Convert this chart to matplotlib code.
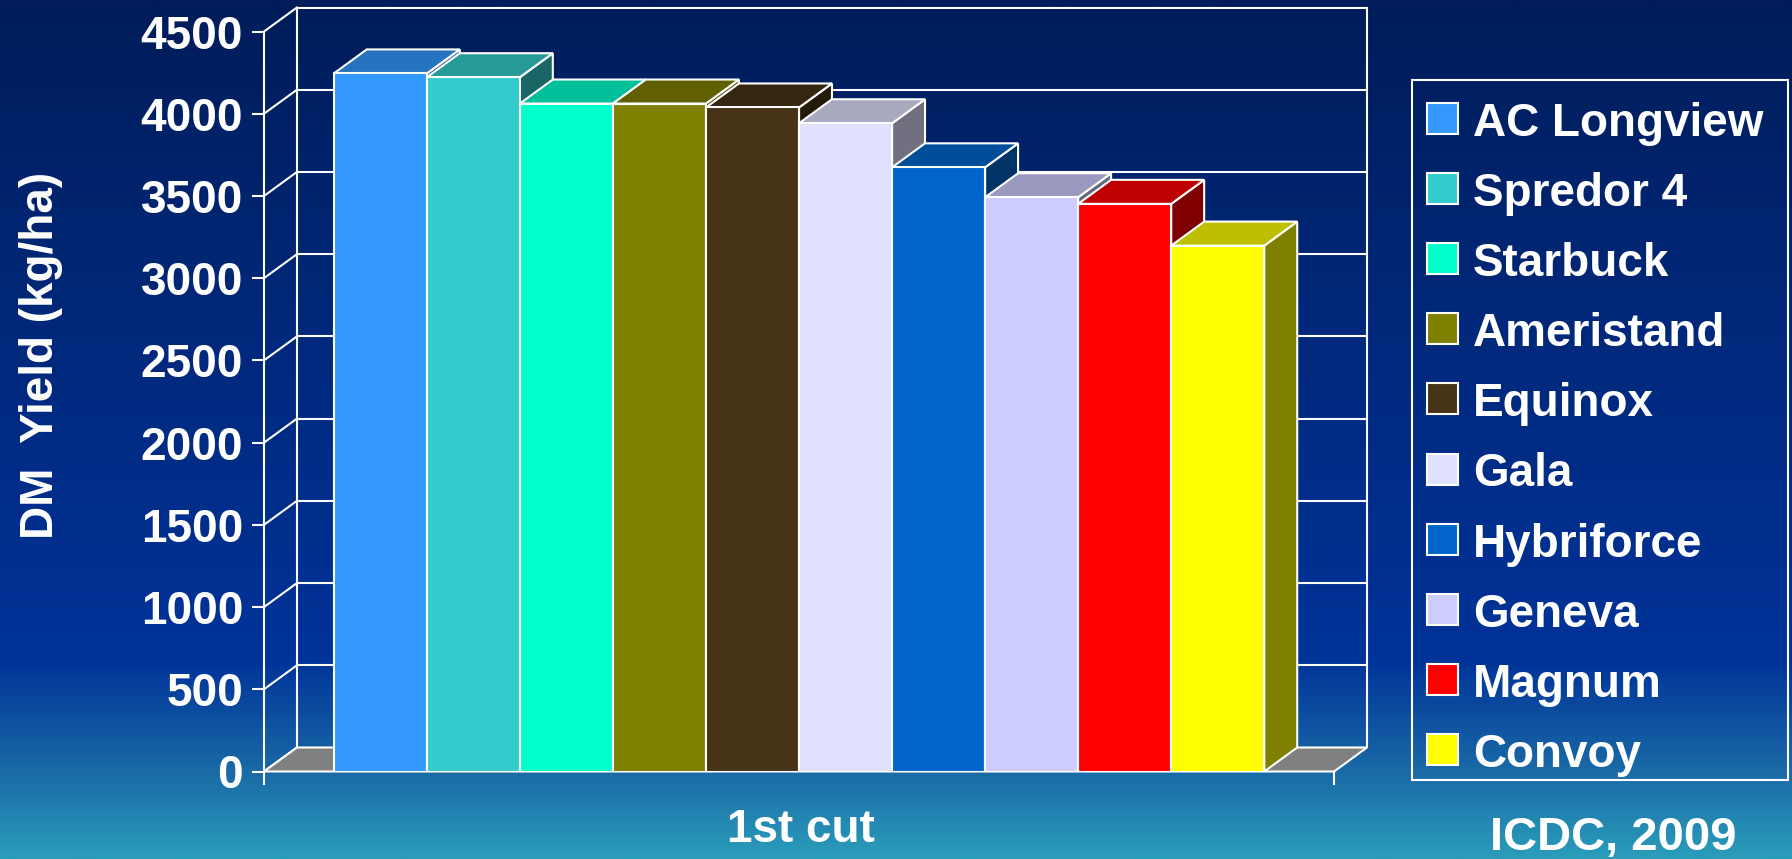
import numpy as np
import matplotlib
matplotlib.use("Agg")
import matplotlib.pyplot as plt
from matplotlib.patches import Polygon, Rectangle
from matplotlib.colors import to_rgb, LinearSegmentedColormap

# ---------------- data ----------------
varieties = ["AC Longview", "Spredor 4", "Starbuck", "Ameristand", "Equinox",
             "Gala", "Hybriforce", "Geneva", "Magnum", "Convoy"]
yields = [4245, 4222, 4062, 4062, 4038, 3942, 3674, 3492, 3452, 3198]
colors = ["#3399ff", "#33cccc", "#00ffcc", "#808000", "#463318",
          "#e0e0ff", "#0066cc", "#ccccff", "#ff0000", "#ffff00"]
yticks = list(range(0, 5000, 500))
x_label = "1st cut"
y_label = "DM  Yield (kg/ha)"
source = "ICDC, 2009"

plt.rcParams['font.family'] = ['Liberation Sans', 'DejaVu Sans']
plt.rcParams['font.weight'] = 'bold'

W, H = 1792, 859
fig = plt.figure(figsize=(W / 100, H / 100), dpi=100)

# ---------------- background gradient ----------------
bg = fig.add_axes([0, 0, 1, 1], zorder=0)
stops = [(0.0, '#011d5a'), (0.45, '#002a80'), (0.77, '#003399'),
         (0.90, '#1a6aa6'), (1.0, '#2a9cba')]
cmap = LinearSegmentedColormap.from_list('bg', stops)
grad = np.linspace(0, 1, 600).reshape(-1, 1)
bg.imshow(grad, aspect='auto', cmap=cmap, extent=[0, 1, 0, 1])
bg.axis('off')

# ---------------- main 3D-like bar chart ----------------
ax = fig.add_axes([264 / W, (H - 771.5) / H, 1103 / W, 764 / H], zorder=1)
ax.patch.set_alpha(0)
n = len(yields)
DX, DY = 0.354, 146
x0 = -1.25
x1 = n - 0.5 + 0.75
ymax = yticks[-1]
ax.set_xlim(x0, x1 + DX)
ax.set_ylim(0, ymax + DY)
lw = 1.5
wc = 'white'

# back wall grid
for v in yticks[1:]:
    ax.plot([x0 + DX, x1 + DX], [v + DY, v + DY], color=wc, lw=lw, zorder=0.5,
            clip_on=False, solid_capstyle='butt')
ax.plot([x0 + DX, x0 + DX], [DY, ymax + DY], color=wc, lw=lw, zorder=0.5, clip_on=False)
ax.plot([x1 + DX, x1 + DX], [DY, ymax + DY], color=wc, lw=lw, zorder=0.5, clip_on=False)
# side wall diagonals
for v in yticks:
    ax.plot([x0, x0 + DX], [v, v + DY], color=wc, lw=lw, zorder=0.5, clip_on=False)
# floor
floor = Polygon([(x0, 0), (x0 + DX, DY), (x1 + DX, DY), (x1, 0)], closed=True,
                fc='#808080', ec=wc, lw=lw, zorder=0.8, clip_on=False)
ax.add_patch(floor)
# front axis line and end tick
below = -12 / (764 / (ymax + DY))
ax.plot([x0, x0], [below, ymax], color=wc, lw=lw, zorder=0.9, clip_on=False)
ax.plot([x1, x1], [below, 0], color=wc, lw=lw, zorder=0.9, clip_on=False)

xs = np.arange(n)
for i, (x, v, c) in enumerate(zip(xs, yields, colors)):
    rgb = np.array(to_rgb(c))
    z = 2 + i * 0.01
    side = Polygon([(x + 0.5, 0), (x + 0.5 + DX, DY), (x + 0.5 + DX, v + DY), (x + 0.5, v)],
                   closed=True, fc=rgb * 0.5, ec=wc, lw=lw, zorder=z, joinstyle='miter')
    top = Polygon([(x - 0.5, v), (x - 0.5 + DX, v + DY), (x + 0.5 + DX, v + DY), (x + 0.5, v)],
                  closed=True, fc=rgb * 0.75, ec=wc, lw=lw, zorder=z, joinstyle='miter')
    ax.add_patch(side)
    ax.add_patch(top)
    ax.bar(x, v, width=1.0, color=c, edgecolor=wc, linewidth=lw, zorder=z + 0.005)

for s in ax.spines.values():
    s.set_visible(False)
ax.set_xticks([])
ax.set_yticks(yticks)
ax.set_yticklabels([str(t) for t in yticks])
ax.tick_params(axis='y', left=True, length=8.6, width=1.5, color=wc, pad=6.5,
               labelsize=33, labelcolor=wc)
for lbl in ax.get_yticklabels():
    lbl.set_fontweight('bold')

# ---------------- overlay: legend and texts ----------------
ov = fig.add_axes([0, 0, 1, 1], zorder=3)
ov.set_xlim(0, W)
ov.set_ylim(H, 0)
ov.axis('off')
ov.add_patch(Rectangle((1412, 80), 376, 700, fill=False, ec=wc, lw=1.5))
for k, (name, c) in enumerate(zip(varieties, colors)):
    cy = 118.5 + k * 70.1
    ov.add_patch(Rectangle((1427, cy - 15.5), 31, 31, fc=c, ec=wc, lw=1.5))
    ov.text(1473, cy + 17.5, name, color=wc, fontsize=33, fontweight='bold',
            ha='left', va='baseline')

ov.text(801, 842, x_label, color=wc, fontsize=33, fontweight='bold',
        ha='center', va='baseline')
ov.text(1613, 850, source, color=wc, fontsize=34, fontweight='bold',
        ha='center', va='baseline')
ov.text(53, 355, y_label, color=wc, fontsize=33, fontweight='bold', rotation=90,
        rotation_mode='anchor', ha='center', va='baseline')

fig.savefig('out.png', dpi=100)
